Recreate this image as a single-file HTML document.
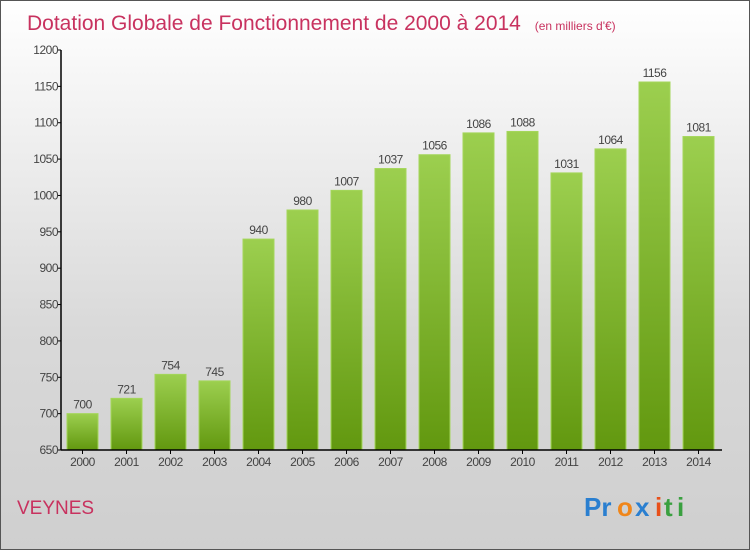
<!DOCTYPE html>
<html><head><meta charset="utf-8"><style>
body{margin:0;width:750px;height:550px;overflow:hidden;font-family:"Liberation Sans",sans-serif}
#frame{position:absolute;left:0;top:0;width:748px;height:548px;border:1px solid #555;background:linear-gradient(#ffffff,#d9d9d9 60%,#cfcfcf)}
</style></head><body>
<div id="frame"></div>
<svg id="chart" width="750" height="550" style="position:absolute;left:0;top:0">
<defs><linearGradient id="bg" x1="0" y1="0" x2="0" y2="1"><stop offset="0" stop-color="#9ccf4f"/><stop offset="1" stop-color="#62980f"/></linearGradient></defs>
<text x="27" y="30" font-size="21" fill="#c8325f">Dotation Globale de Fonctionnement de 2000 à 2014 <tspan font-size="12" dx="8">(en milliers d'€)</tspan></text>
<text x="17" y="514" font-size="19" fill="#c8325f">VEYNES</text>
<g font-size="26" font-weight="bold">
<text x="584" y="516" fill="#2a7fd0">Pr</text><text x="617" y="516" fill="#f0861a">o</text><text x="635" y="516" fill="#2a7fd0">x</text><text x="655" y="516" fill="#e8501a">i</text><text x="664" y="516" fill="#3aa040">t</text><text x="677" y="516" fill="#3aa040">i</text></g>
<g id="plot"></g>
</svg>
<script>
const categories=["2000","2001","2002","2003","2004","2005","2006","2007","2008","2009","2010","2011","2012","2013","2014"];
const values=[700,721,754,745,940,980,1007,1037,1056,1086,1088,1031,1064,1156,1081];
const yTicks=[650,700,750,800,850,900,950,1000,1050,1100,1150,1200];
const yMin=650,yMax=1200,plotTop=50,plotBot=450,plotLeft=61;
const y=v=>plotBot-(v-yMin)/(yMax-yMin)*(plotBot-plotTop);
const x=i=>82.5+i*44;
const g=document.getElementById('plot');const NS="http://www.w3.org/2000/svg";
function mk(t,a,txt){const e=document.createElementNS(NS,t);for(const k in a)e.setAttribute(k,a[k]);if(txt!==undefined)e.textContent=txt;g.appendChild(e);return e;}
yTicks.forEach(t=>{
const l=mk('line',{x1:plotLeft-4,x2:plotLeft,y1:y(t),y2:y(t),stroke:'#000'});


const tx=mk('text',{x:plotLeft-3,y:y(t)+4,'text-anchor':'end','font-size':12,fill:'#444','letter-spacing':'-0.5'},t);


});
values.forEach((v,i)=>{
const r=mk('rect',{x:x(i)-15.5,y:y(v),width:31,height:plotBot-y(v),fill:'url(#bg)',stroke:'#a4d65a','stroke-width':1});


const vl=mk('text',{x:x(i),y:y(v)-5,'text-anchor':'middle','font-size':12,fill:'#444','letter-spacing':'-0.5'},v);


const tk=mk('line',{x1:x(i),x2:x(i),y1:plotBot,y2:plotBot+4,stroke:'#000'});


const cl=mk('text',{x:x(i),y:plotBot+16,'text-anchor':'middle','font-size':12,fill:'#444','letter-spacing':'-0.5'},categories[i]);


});
const ya=mk('line',{x1:plotLeft,x2:plotLeft,y1:plotTop,y2:plotBot,stroke:'#000','stroke-width':1.5});


const xa=mk('line',{x1:plotLeft,x2:722,y1:plotBot,y2:plotBot,stroke:'#000','stroke-width':1.5});


</script>
</body></html>
